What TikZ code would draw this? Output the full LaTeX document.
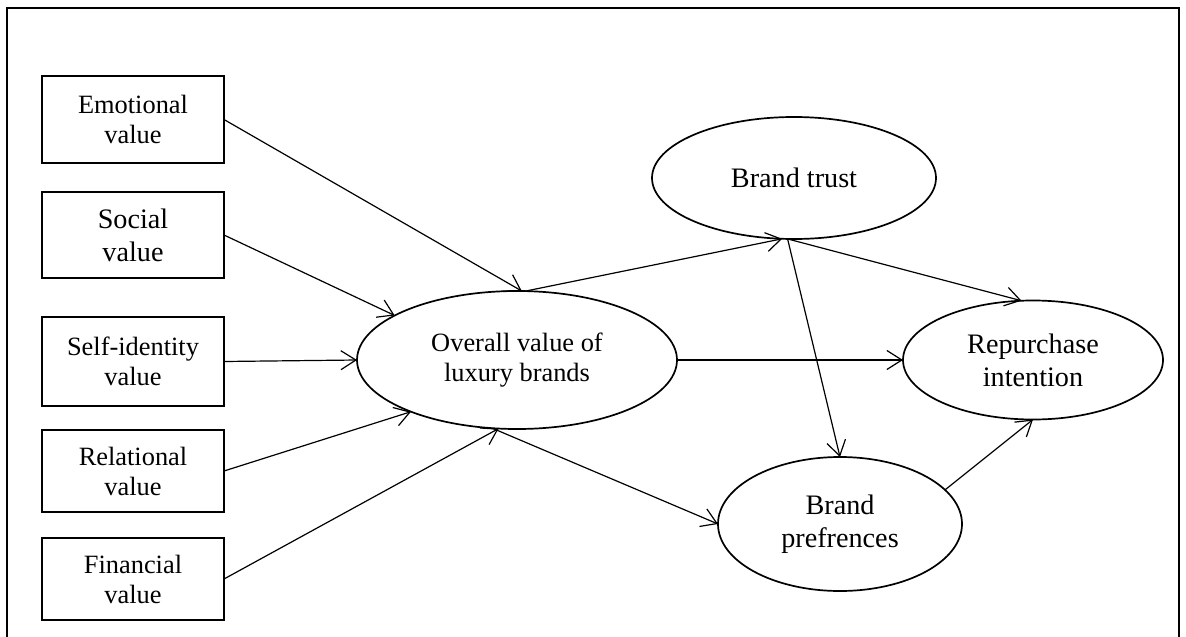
\documentclass[tikz,border=0pt]{standalone}
\usepackage{fontspec}
\setmainfont{Liberation Serif}
\usetikzlibrary{shapes.geometric,arrows.meta}
\begin{document}
\begin{tikzpicture}[x=1pt,y=-1pt,
  every node/.style={inner sep=0pt, outer sep=0pt, align=center, text=black},
  txtA/.style={font=\fontsize{26.4}{30}\selectfont},
  txtB/.style={font=\fontsize{28.2}{33}\selectfont},
  valbox/.style={draw, line width=1.7pt, rectangle, minimum width=182pt},
  latent/.style={draw, line width=1.7pt, ellipse},
  link/.style={draw, line width=1.2pt, -{Straight Barb[length=15pt,width=19pt]}}
]
\useasboundingbox (0,0) rectangle (1186,637);

% outer frame (open at the bottom)
\draw[line width=2pt] (7,640) -- (7,8) -- (1179,8) -- (1179,640);

% value dimensions
\node[valbox, txtA, minimum height=87pt] (emo) at (133,119.5) {Emotional\\value};
\node[valbox, txtB, minimum height=86pt] (soc) at (133,235) {Social\\value};
\node[valbox, txtA, minimum height=89pt] (self) at (133,361.5) {Self-identity\\value};
\node[valbox, txtA, minimum height=82pt] (rel) at (133,471) {Relational\\value};
\node[valbox, txtA, minimum height=82pt] (fin) at (133,579) {Financial\\value};

% latent constructs
\node[latent, txtA, minimum width=320pt, minimum height=138pt] (ov) at (517,360) {Overall value of\\luxury brands};
\node[latent, txtB, minimum width=284pt, minimum height=122pt] (bt) at (794,178) {Brand trust};
\node[latent, txtB, minimum width=260pt, minimum height=119pt] (rp) at (1033,360) {Repurchase\\intention};
\node[latent, txtB, minimum width=244pt, minimum height=134pt] (pf) at (840,524) {Brand\\prefrences};

% paths
\draw[link] (emo.east) -- (ov.86);
\draw[link] (soc.east) -- (ov.160);
\draw[link] (self.east) -- (ov.west);
\draw[link] (rel.east) -- (ov.206);
\draw[link] (fin.east) -- (ov.255);
\draw[link] (ov.83) -- (bt.259);
\draw[link] (bt.264) -- (rp.101);
\draw[link] (bt.264) -- (pf.north);
\draw[link] (ov.east) -- (rp.west);
\draw[link] (ov.250) -- (pf.west);
\draw[link] (pf.18) -- (rp.south);
\end{tikzpicture}
\end{document}
